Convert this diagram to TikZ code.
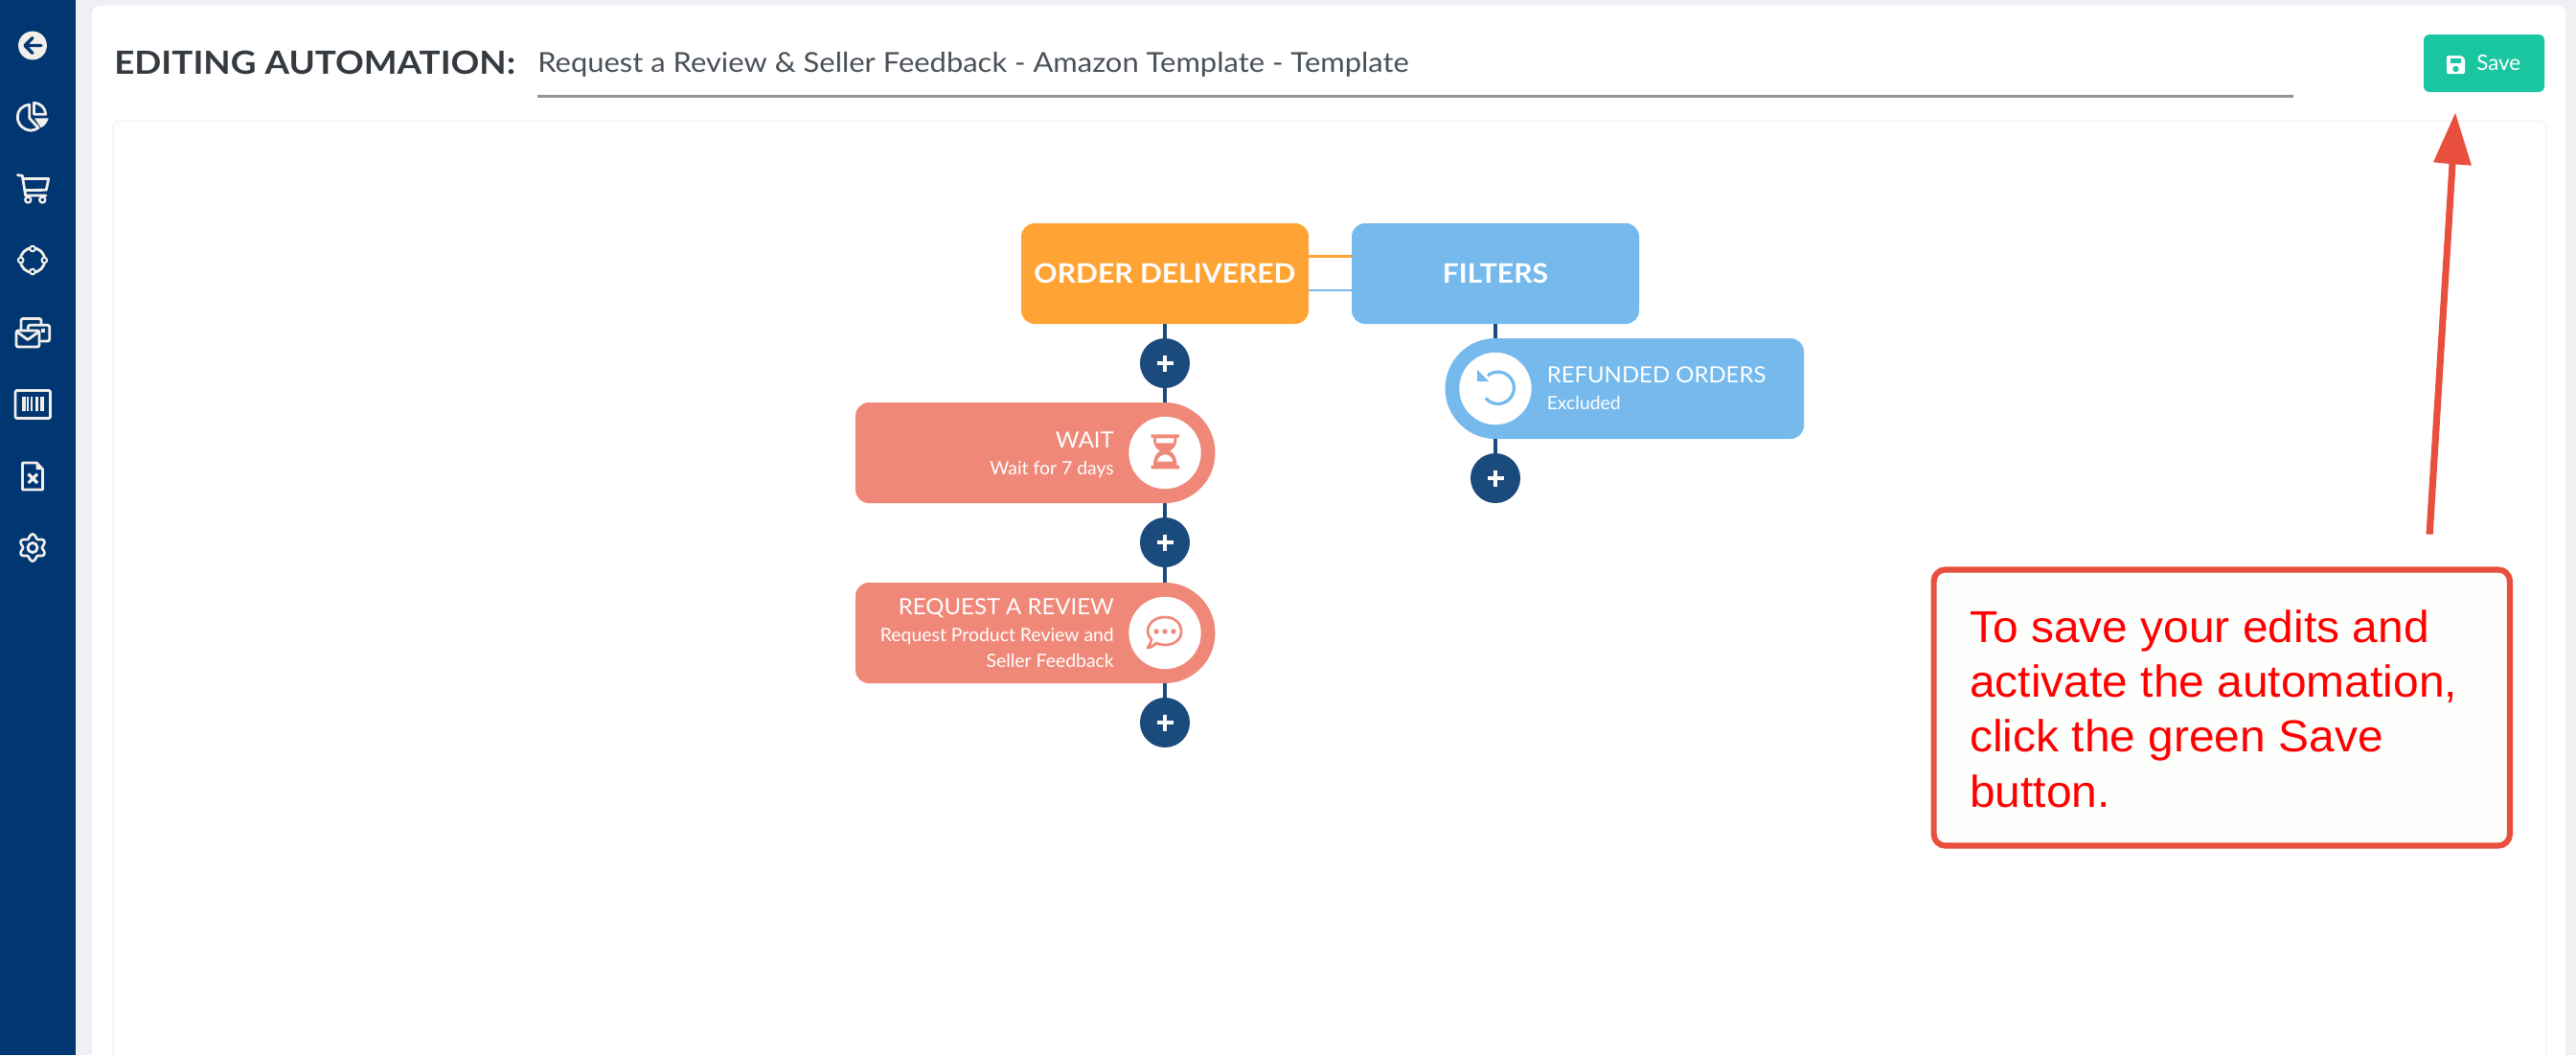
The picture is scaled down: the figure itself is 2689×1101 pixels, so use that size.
\documentclass[tikz,border=0pt]{standalone}
\usepackage{fontspec}
\setmainfont{Lato}
\newfontfamily\arialf[FakeStretch=1.027]{Liberation Sans}
\newfontfamily\titlef[FakeStretch=1.105]{Lato}
\newfontfamily\namef[FakeStretch=1.079]{Lato}
\newfontfamily\boxf[FakeStretch=1.075]{Lato}
\newfontfamily\headf[FakeStretch=1.025]{Lato}
\newfontfamily\subf[FakeStretch=1.01]{Lato}
\usetikzlibrary{calc}
\definecolor{sidebar}{HTML}{003672}
\definecolor{pagebg}{HTML}{EEF0F3}
\definecolor{iconw}{HTML}{F2EEEA}
\definecolor{ttl}{HTML}{343A40}
\definecolor{sub}{HTML}{495057}
\definecolor{orangeb}{HTML}{FFA434}
\definecolor{blueb}{HTML}{75B9ED}
\definecolor{salmon}{HTML}{EF8878}
\definecolor{dkblue}{HTML}{1B4A7C}
\definecolor{teal}{HTML}{1AC6A0}
\definecolor{redl}{HTML}{E94F3D}
\definecolor{notebg}{HTML}{FDFFFC}
\tikzset{
  bigbox/.style={rectangle,rounded corners=10.5pt,minimum width=225pt,minimum height=78.75pt,inner sep=0,text=white,font=\boxf\bfseries\fontsize{21}{21}\selectfont},
  plusbtn/.style={circle,fill=dkblue,minimum size=39pt,inner sep=0,text=white},
  wire/.style={draw=dkblue,line width=2.4pt},
  sideicon/.style={draw=iconw,line width=2.1pt,line cap=round,line join=round},
  ghost/.style={rectangle,minimum width=281.25pt,minimum height=78.75pt,inner sep=0},
  whitedisc/.style={circle,fill=white,minimum size=56.5pt,inner sep=0},
  htitle/.style={anchor=base east,inner sep=0,text=white,font=\headf\fontsize{17.5}{17.5}\selectfont},
  hsub/.style={anchor=base east,inner sep=0,text=white,font=\subf\fontsize{14.4}{14.4}\selectfont},
}
\newcommand{\plussign}[1]{\draw[white,line width=2.3pt] ($(#1)+(-8.5,0)$)--($(#1)+(8.5,0)$) ($(#1)+(0,-8.5)$)--($(#1)+(0,8.5)$);}
\begin{document}
\begin{tikzpicture}[x=0.75pt,y=-0.75pt]
\useasboundingbox (0,0) rectangle (2689,1101);
\fill[pagebg] (0,0) rectangle (2689,1101);
\fill[white,rounded corners=6pt] (96,6) -- (2678,6) -- (2678,1140) -- (96,1140) -- cycle;
\draw[draw=pagebg,line width=1pt,rounded corners=5pt] (118,126.5) -- (2658,126.5) -- (2658,1140) -- (118,1140) -- cycle;
\fill[sidebar] (0,0) rectangle (79,1101);

% sidebar icons
\begin{scope}[shift={(34,47.5)}]
  \fill[iconw] (0,0) circle[radius=11.2pt];
  \draw[sidebar,line width=2.4pt,line cap=round,line join=round] (9,0)--(-7,0) (0,-8)--(-8,0)--(0,8);
\end{scope}
\begin{scope}[shift={(34,122)}]
  \draw[sideicon] (-3.3,-12.7) .. controls (-11,-12) and (-15.7,-7) .. (-15.7,0) .. controls (-15.7,8) and (-9,14) .. (-2,14.2) .. controls (1,14) and (4,13) .. (6,11.3) -- (-3.3,1.3) -- cycle;
  \draw[sideicon] (1.5,-14.7) -- (1.5,-2.7) -- (13.7,-2.7) .. controls (13.7,-9) and (8,-14.7) .. (1.5,-14.7) -- cycle;
  \fill[iconw] (2,1.3) -- (16.7,1.3) .. controls (15.5,6) and (12.5,9.5) .. (8.7,11.3) -- cycle;
\end{scope}
\begin{scope}[shift={(34,196.5)}]
  \draw[sideicon] (-15.7,-13.8) -- (-10.7,-13.2) -- (-7.3,7.5) -- (14,7.5);
  \draw[sideicon] (-10.2,-10) -- (16.7,-10) -- (14.3,1.8) -- (-8,2);
  \draw[sideicon,line width=1.7pt] (-4.7,12) circle[radius=2.3pt] (10.3,12) circle[radius=2.3pt];
\end{scope}
\begin{scope}[shift={(34,271.5)}]
  \draw[sideicon] (0,0) circle[radius=9.6pt];
  \foreach \a/\b in {0/-12,0/12,-12.3/0,12.3/0}
    \draw[iconw,fill=sidebar,line width=1.5pt] (\a,\b) circle[radius=2.1pt];
\end{scope}
\begin{scope}[shift={(34,346.5)}]
  \draw[sideicon,rounded corners=1.5pt] (-12,-3) -- (-12,-14) -- (9,-14) -- (9,-7.2);
  \draw[sideicon,rounded corners=1.5pt] (-4.7,-3) -- (-4.7,-7.2) -- (17.7,-7.2) -- (17.7,9.5) -- (9,9.5);
  \fill[iconw] (8.5,-3.5) rectangle (12.5,0.5);
  \draw[sideicon,fill=sidebar,rounded corners=1.5pt] (-17,-1.5) rectangle (7,15.5);
  \draw[sideicon] (-16,0) -- (-5,8) -- (6,0);
\end{scope}
\begin{scope}[shift={(34,421.5)}]
  \draw[sideicon,line cap=butt,rounded corners=1pt] (-18,-14) rectangle (18.5,15);
  \foreach \a/\b in {-11.3/-7.3,-5.7/-4,-2.3/0.3,2.7/6,7.7/11.7}
    \fill[iconw] (\a,-7.5) rectangle (\b,7.8);
\end{scope}
\begin{scope}[shift={(34,497)}]
  \draw[sideicon,fill=sidebar] (-10.5,-14) -- (4.3,-14) -- (10.5,-7.3) -- (10.5,14) -- (-10.5,14) -- cycle;
  \fill[iconw] (3.5,-14) -- (10.5,-7) -- (3.5,-7) -- cycle;
  \draw[iconw,line width=2.5pt] (-4.4,-2.4) -- (5,7) (5,-2.4) -- (-4.4,7);
\end{scope}
\begin{scope}[shift={(34,571.5)}]
  \draw[sideicon,line width=2pt] plot[domain=0:360,samples=121,smooth] ({(12+2*cos(6*(\x-30)))*cos(\x)},{(12+2*cos(6*(\x-30)))*sin(\x)}) -- cycle;
  \draw[sideicon] (0,0) circle[radius=3.8pt];
\end{scope}

% header
\node[anchor=base west,inner sep=0,text=ttl,font=\titlef\bfseries\fontsize{25}{25}\selectfont] (title) at (119,77) {EDITING AUTOMATION:};
\node[anchor=base west,inner sep=0,text=sub,font=\namef\fontsize{21.5}{21.5}\selectfont] (name) at (561,75) {Request a Review \& Seller Feedback - Amazon Template - Template};
\coordinate (ulA) at (561,100.5);
\coordinate (ulB) at (2394,100.5);
\draw[draw=black!42,line width=2pt] (ulA) -- (ulB);
\node[rectangle,rounded corners=4.5pt,fill=teal,minimum width=94.5pt,minimum height=45pt,inner sep=0] (savebtn) at (2593,66) {};
\node[anchor=base west,inner sep=0,text=white,font=\fontsize{16.8}{16.8}\selectfont] (savetext) at (2585,73.3) {Save};
\begin{scope}[shift={(2563.5,67.5)}]
  \fill[white,rounded corners=1pt] (-9.5,-9.5) -- (6,-9.5) -- (9.5,-6) -- (9.5,9.5) -- (-9.5,9.5) -- cycle;
  \fill[teal] (-6,-7) rectangle (5,-2);
  \fill[teal] (0,4.5) circle[radius=2.4pt];
\end{scope}

% flow nodes
\node[bigbox,fill=orangeb] (order) at (1216,285.5) {ORDER DELIVERED};
\node[bigbox,fill=blueb] (filters) at (1561,285.5) {FILTERS};

\node[plusbtn] (p1) at (1216,379) {};
\node[plusbtn] (p2) at (1216,566) {};
\node[plusbtn] (p3) at (1216,754) {};
\node[plusbtn] (p4) at (1561,499) {};
\plussign{p1}\plussign{p2}\plussign{p3}\plussign{p4}

% pill shapes
\fill[salmon] (907,420) -- (1216,420) arc[start angle=90,end angle=-90,radius=39.375pt] -- (907,525) arc[start angle=270,end angle=180,radius=10.5pt] -- (893,434) arc[start angle=180,end angle=90,radius=10.5pt] -- cycle;
\node[ghost] (wait) at (1080.5,472.5) {};
\fill[salmon] (907,608) -- (1216,608) arc[start angle=90,end angle=-90,radius=39.375pt] -- (907,713) arc[start angle=270,end angle=180,radius=10.5pt] -- (893,622) arc[start angle=180,end angle=90,radius=10.5pt] -- cycle;
\node[ghost] (review) at (1080.5,660.5) {};
\fill[blueb] (1869,353) -- (1561,353) arc[start angle=90,end angle=270,radius=39.375pt] -- (1869,458) arc[start angle=-90,end angle=0,radius=10.5pt] -- (1883,367) arc[start angle=0,end angle=90,radius=10.5pt] -- cycle;
\node[ghost] (refund) at (1696,405.5) {};

\node[whitedisc] (waiticon) at (1216,472.5) {};
\node[whitedisc] (reviewicon) at (1216,660.5) {};
\node[whitedisc] (refundicon) at (1561,405.5) {};

% connectors
\draw[draw=orangeb,line width=2.2pt] ($(order.east)+(0,-18.3)$) -- ($(filters.west)+(0,-18.3)$);
\draw[draw=blueb,line width=2.2pt] ($(order.east)+(0,17.5)$) -- ($(filters.west)+(0,17.5)$);
\draw[wire] (order.south) -- (p1.north);
\draw[wire] (p1.south) -- (p1.south |- wait.north);
\draw[wire] (p1.south |- wait.south) -- (p2.north);
\draw[wire] (p2.south) -- (p2.south |- review.north);
\draw[wire] (p2.south |- review.south) -- (p3.north);
\draw[wire] (filters.south) -- (filters.south |- refund.north);
\draw[wire] (p4.north |- refund.south) -- (p4.north);

% pill texts
\node[htitle] (waitT) at (1163,467) {WAIT};
\node[hsub] (waitS) at (1163,495) {Wait for 7 days};
\node[htitle] (revT) at (1163,641) {REQUEST A REVIEW};
\node[hsub] (revS1) at (1163,669) {Request Product Review and};
\node[hsub] (revS2) at (1163,696) {Seller Feedback};
\node[htitle,anchor=base west] (refT) at (1614.5,399) {REFUNDED ORDERS};
\node[hsub,anchor=base west] (refS) at (1614.5,427) {Excluded};

% hourglass
\begin{scope}[shift={(1216,472)}]
  \fill[salmon] (-14.3,-18.7) -- (15,-18.7) -- (15,-15.3) -- (12.5,-15.3) .. controls (12.5,-8) and (10,-4) .. (5,-1.5) .. controls (10,1.5) and (12.5,6) .. (12.5,13.5) -- (15,13.5) -- (15,17.3) -- (-14.3,17.3) -- (-14.3,13.5) -- (-12,13.5) .. controls (-12,6) and (-10,1.5) .. (-5,-1.5) .. controls (-10,-4) and (-12,-8) .. (-12,-15.3) -- (-14.3,-15.3) -- cycle;
  \fill[white] (-9.3,-14.7) -- (9.5,-14.7) -- (9,-9.7) -- (-8.8,-9.7) -- cycle;
  \fill[white] (-8,9.7) .. controls (-7,5) and (-3.5,2.3) .. (0.3,2.3) .. controls (4,2.3) and (7.5,5) .. (8.5,9.7) -- cycle;
\end{scope}
% chat bubble
\begin{scope}[shift={(1216,660)}]
  \draw[salmon,line width=2pt,line join=round] (0,-16) .. controls (11,-16) and (17,-9) .. (17,-1) .. controls (17,8) and (9,13) .. (0,13) .. controls (-4,13) and (-7,12) .. (-9,11) .. controls (-12,14) and (-15,16) .. (-18,16) .. controls (-16,13) and (-14,10) .. (-14,7) .. controls (-17,4) and (-18,2) .. (-18,-1) .. controls (-18,-9) and (-11,-16) .. (0,-16) -- cycle;
  \foreach \a in {-9,0,9} \fill[salmon] (\a,-1) circle[radius=2pt];
\end{scope}
% refresh icon
\begin{scope}[shift={(1561,405)}]
  \draw[blueb,line width=2.4pt] (-8,-13) arc[start angle=130,end angle=-140,radius=12.5pt];
  \fill[blueb] (-19,-19) -- (-19,-7) -- (-7,-7) -- cycle;
\end{scope}

% annotation
\coordinate (arrowTail) at (2536,557.5);
\node[inner sep=0,minimum size=0] (arrowTip) at (2563,118) {};
\fill[redl] (arrowTip.center) -- (2580,172.7) -- (2563.5,171.5) -- (2539.7,557.5) -- (2532.5,557.5) -- (2556.5,171) -- (2540,169.3) -- cycle;
\node[rectangle,rounded corners=9pt,draw=redl,line width=4.6pt,fill=notebg,minimum width=451pt,minimum height=216pt,inner sep=0] (note) at (2319.3,738.5) {};
\node[anchor=base west,inner sep=0,align=left,text=red,font=\arialf\fontsize{35}{43}\selectfont] (notetext) at (2056,842) {To save your edits and\\activate the automation,\\click the green Save\\button.};
\end{tikzpicture}
\end{document}
